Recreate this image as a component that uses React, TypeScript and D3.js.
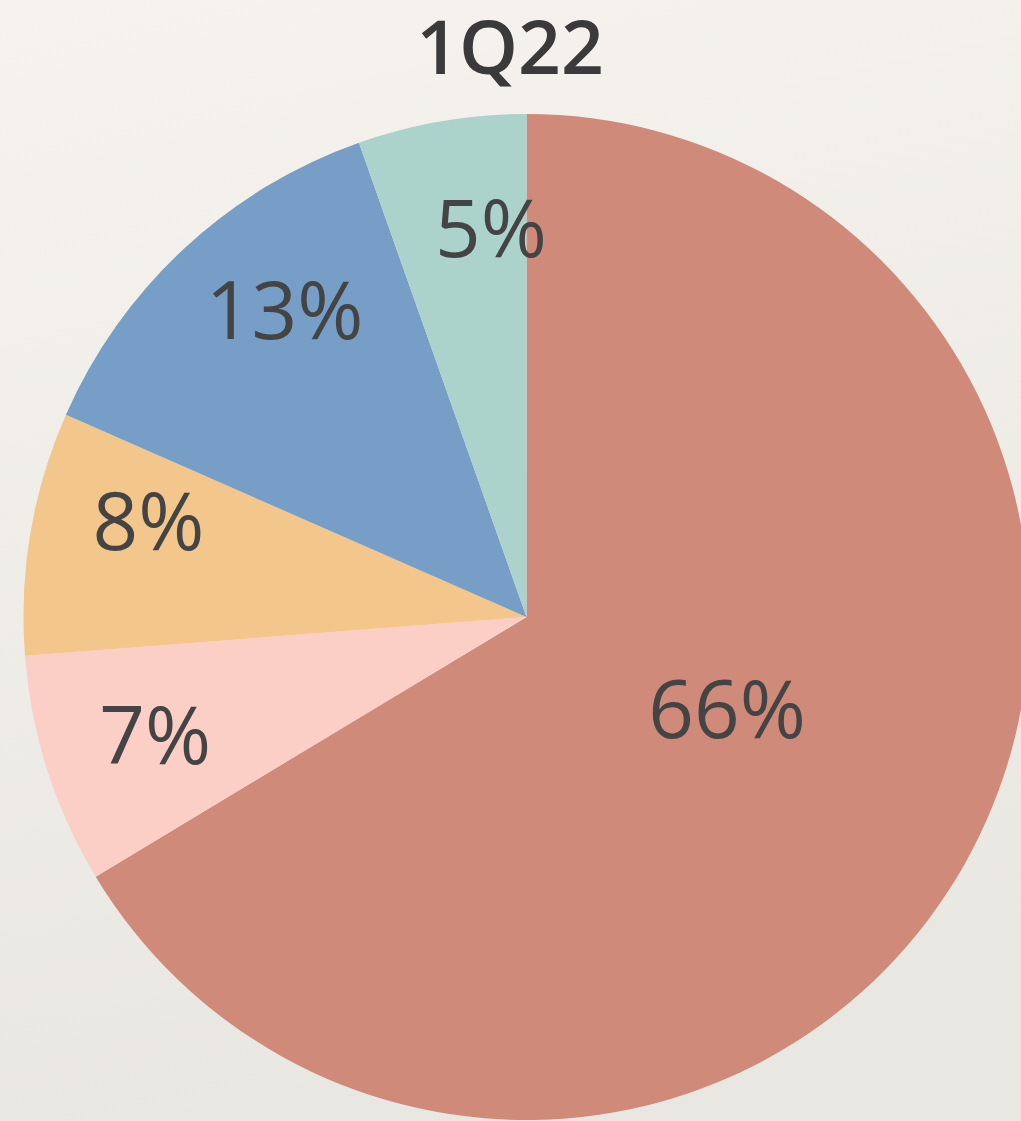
import React, { useEffect, useRef } from 'react';
import * as d3 from 'd3';

// slice order, clockwise from 12 o'clock
const categories = ['A', 'B', 'C', 'D', 'E'];
const values = [66.3, 7.4, 7.8, 13.0, 5.4];
const labels = ['66%', '7%', '8%', '13%', '5%'];
const colors = ['#CF8A7A', '#FBCFC6', '#F3C68B', '#779EC6', '#ABD3CC'];
const title = '1Q22';

const W = 1021;
const H = 1121;

const App = () => {
  const ref = useRef<SVGSVGElement>(null);

  useEffect(() => {
    if (!ref.current) return;
    const svg = d3.select(ref.current);
    svg.selectAll('*').remove();

    const cx = 526.5;
    const cy = 617;
    const r = 503;

    const defs = svg.append('defs');
    const grad = defs.append('linearGradient')
      .attr('id', 'bg')
      .attr('x1', 0).attr('y1', 0).attr('x2', 0.2).attr('y2', 1);
    grad.append('stop').attr('offset', '0%').attr('stop-color', '#F6F3EE');
    grad.append('stop').attr('offset', '100%').attr('stop-color', '#E9E7E2');

    svg.append('rect')
      .attr('width', W)
      .attr('height', H)
      .attr('fill', 'url(#bg)');

    svg.append('text')
      .attr('x', 510)
      .attr('y', 74)
      .attr('text-anchor', 'middle')
      .style('font-family', '"Open Sans", "Noto Sans", sans-serif')
      .style('font-size', '75px')
      .style('font-weight', 600)
      .attr('fill', '#3A3A3A')
      .text(title);

    const pie = d3.pie<number>().sort(null).value(d => d);
    const arcs = pie(values);
    const arc = d3.arc<d3.PieArcDatum<number>>().innerRadius(0).outerRadius(r);

    const g = svg.append('g').attr('transform', `translate(${cx},${cy})`);

    g.selectAll('path.slice')
      .data(arcs)
      .join('path')
      .attr('class', 'slice')
      .attr('d', arc)
      .attr('fill', (d, i) => colors[i]);

    // best-fit style labels: big slice near centre, small ones toward the rim,
    // upper-left ones nudged clockwise like the original
    const labelPos = (d: d3.PieArcDatum<number>) => {
      const span = d.endAngle - d.startAngle;
      let mid = (d.startAngle + d.endAngle) / 2;
      const k = span > Math.PI ? 0.44 : 0.775;
      if (span > Math.PI) mid -= (4.5 * Math.PI) / 180;
      else if (mid > 1.5 * Math.PI) mid += (4.5 * Math.PI) / 180;
      return [Math.sin(mid) * r * k, -Math.cos(mid) * r * k];
    };

    g.selectAll('text.lbl')
      .data(arcs)
      .join('text')
      .attr('class', 'lbl')
      .attr('x', d => labelPos(d)[0])
      .attr('y', d => labelPos(d)[1])
      .attr('dy', '0.35em')
      .attr('text-anchor', 'middle')
      .style('font-family', '"Open Sans", "Noto Sans", sans-serif')
      .style('font-size', '80px')
      .attr('fill', '#444444')
      .text((d, i) => labels[i]);
  }, []);

  return (
    <svg
      ref={ref}
      width={W}
      height={H}
      style={{ position: 'absolute', left: 0, top: 0, display: 'block' }}
      data-categories={categories.join(',')}
    />
  );
};

export default App;
